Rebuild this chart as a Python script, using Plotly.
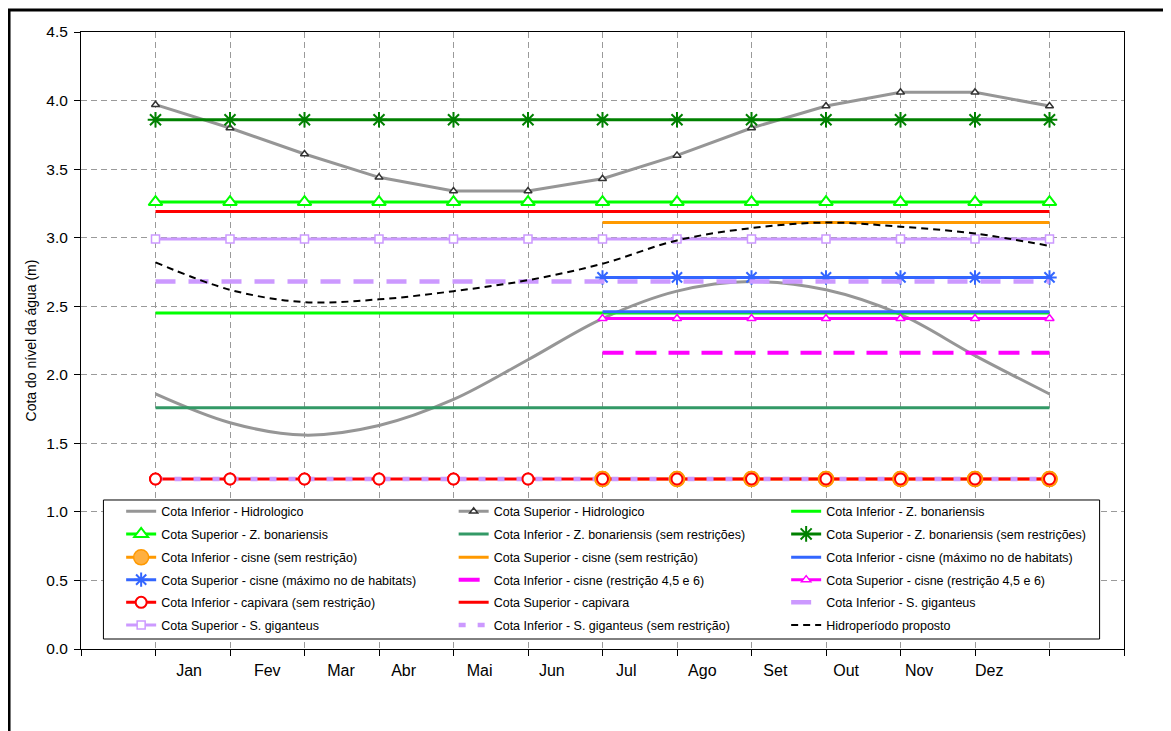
import plotly.graph_objects as go

# pontos do eixo x (13 leituras ao longo do ano)
pontos = [1, 2, 3, 4, 5, 6, 7, 8, 9, 10, 11, 12, 13]
pontos_jul_dez = [7, 8, 9, 10, 11, 12, 13]

meses = ["Jan", "Fev", "Mar", "Abr", "Mai", "Jun", "Jul", "Ago", "Set", "Out", "Nov", "Dez"]
meses_pos = [1.45, 2.50, 3.49, 4.33, 5.35, 6.32, 7.32, 8.34, 9.32, 10.27, 11.25, 12.19]

cota_inf_hidro = [1.86, 1.65, 1.56, 1.63, 1.82, 2.11, 2.41, 2.61, 2.68, 2.62, 2.44, 2.14, 1.86]
cota_sup_hidro = [3.97, 3.80, 3.61, 3.44, 3.34, 3.34, 3.43, 3.60, 3.80, 3.96, 4.06, 4.06, 3.96]
hidroperiodo = [2.82, 2.62, 2.53, 2.55, 2.61, 2.69, 2.81, 2.98, 3.07, 3.11, 3.08, 3.03, 2.94]

# cotas constantes (m)
inf_zbon = 2.45
sup_zbon = 3.26
inf_zbon_sem = 1.76
sup_zbon_sem = 3.86
inf_cisne_sem = 1.24
sup_cisne_sem = 3.11
inf_cisne_max = 2.46
sup_cisne_max = 2.71
inf_cisne_restr = 2.16
sup_cisne_restr = 2.41
inf_capivara = 1.24
sup_capivara = 3.19
inf_sgig = 2.68
sup_sgig = 2.99
inf_sgig_sem = 1.24

FONT = "Liberation Sans, Arial, sans-serif"
CINZA = "#969696"
VERDE = "#00FF00"
VERDE_MAR = "#339966"
VERDE_ESC = "#008000"
LARANJA = "#FF9900"
AZUL = "#3366FF"
MAGENTA = "#FF00FF"
VERMELHO = "#FF0000"
LILAS = "#CC99FF"


def mk(symbol, size, fill, edge, lw=1.5):
    return dict(symbol=symbol, size=size, color=fill, line=dict(color=edge, width=lw))


series = [
    dict(name="Cota Inferior - Hidrologico", x=pontos, y=cota_inf_hidro,
         line=dict(color=CINZA, width=3, shape="spline")),
    dict(name="Cota Superior - Hidrologico", x=pontos, y=cota_sup_hidro,
         line=dict(color=CINZA, width=3), marker=mk("triangle-up", 7, "white", "#333333")),
    dict(name="Cota Inferior - Z. bonariensis", x=pontos, y=[inf_zbon] * 13,
         line=dict(color=VERDE, width=3)),
    dict(name="Cota Superior - Z. bonariensis", x=pontos, y=[sup_zbon] * 13,
         line=dict(color=VERDE, width=3), marker=mk("triangle-up", 12, "white", VERDE, 2)),
    dict(name="Cota Inferior - Z. bonariensis (sem restrições)", x=pontos, y=[inf_zbon_sem] * 13,
         line=dict(color=VERDE_MAR, width=3)),
    dict(name="Cota Superior - Z. bonariensis (sem restrições)", x=pontos, y=[sup_zbon_sem] * 13,
         line=dict(color=VERDE_ESC, width=3), marker=mk("asterisk-open", 13, VERDE_ESC, VERDE_ESC, 2)),
    dict(name="Cota Inferior - cisne (sem restrição)", x=pontos_jul_dez, y=[inf_cisne_sem] * 7,
         line=dict(color=LARANJA, width=3), marker=mk("circle", 15, "#FFB040", LARANJA)),
    dict(name="Cota Superior - cisne (sem restrição)", x=pontos_jul_dez, y=[sup_cisne_sem] * 7,
         line=dict(color=LARANJA, width=3)),
    dict(name="Cota Inferior - cisne (máximo no de habitats)", x=pontos_jul_dez, y=[inf_cisne_max] * 7,
         line=dict(color=AZUL, width=3)),
    dict(name="Cota Superior - cisne (máximo no de habitats)", x=pontos_jul_dez, y=[sup_cisne_max] * 7,
         line=dict(color=AZUL, width=3), marker=mk("asterisk-open", 12, AZUL, AZUL, 2)),
    dict(name="Cota Inferior - cisne (restrição 4,5 e 6)", x=pontos_jul_dez, y=[inf_cisne_restr] * 7,
         line=dict(color=MAGENTA, width=4, dash="21px,12px")),
    dict(name="Cota Superior - cisne (restrição 4,5 e 6)", x=pontos_jul_dez, y=[sup_cisne_restr] * 7,
         line=dict(color=MAGENTA, width=3), marker=mk("triangle-up", 8, "white", MAGENTA)),
    dict(name="Cota Inferior - capivara (sem restrição)", x=pontos, y=[inf_capivara] * 13,
         line=dict(color=VERMELHO, width=3), marker=mk("circle", 11, "white", VERMELHO, 2)),
    dict(name="Cota Superior - capivara", x=pontos, y=[sup_capivara] * 13,
         line=dict(color=VERMELHO, width=3)),
    dict(name="Cota Inferior - S. giganteus", x=pontos, y=[inf_sgig] * 13,
         line=dict(color=LILAS, width=4.5, dash="20px,13px")),
    dict(name="Cota Superior - S. giganteus", x=pontos, y=[sup_sgig] * 13,
         line=dict(color=LILAS, width=3), marker=mk("square", 8, "white", LILAS)),
    dict(name="Cota Inferior - S. giganteus (sem restrição)", x=pontos, y=[inf_sgig_sem] * 13,
         line=dict(color=LILAS, width=4.5, dash="7px,12px")),
    dict(name="Hidroperíodo proposto", x=pontos, y=hidroperiodo,
         line=dict(color="black", width=2, dash="7px,5px", shape="spline")),
]

fig = go.Figure()
for i, s in enumerate(series):
    leg = "legend" if i < 3 else "legend%d" % (i // 3 + 1)
    fig.add_trace(go.Scatter(
        x=s["x"], y=s["y"], name=s["name"], line=s["line"],
        mode="lines+markers" if "marker" in s else "lines",
        marker=s.get("marker"), legend=leg, hoverinfo="name+y",
    ))

# marcadores circulares por cima das linhas tracejadas
for idx in (6, 12):
    s = series[idx]
    fig.add_trace(go.Scatter(x=s["x"], y=s["y"], mode="markers", marker=s["marker"],
                             showlegend=False, hoverinfo="skip"))

# eixo auxiliar só para os rótulos dos meses
fig.add_trace(go.Scatter(x=[None], y=[None], xaxis="x2", showlegend=False, hoverinfo="skip"))

grid = dict(showgrid=True, gridcolor="#9a9a9a", gridwidth=1, griddash="6px,4px")

# a página tem 8px de margem: a figura começa em (8, 8) na janela
fig.update_layout(
    width=1163, height=723,
    margin=dict(l=73, r=46.6, t=24, b=82),
    paper_bgcolor="white", plot_bgcolor="white",
    font=dict(family=FONT, color="black"),
    xaxis=dict(range=[0, 14], dtick=1, tick0=0, showticklabels=False, ticks="outside",
               ticklen=6, tickcolor="black", showline=True, linecolor="black", linewidth=1,
               mirror=True, zeroline=False, **grid),
    xaxis2=dict(range=[0, 14], overlaying="x", anchor="y", side="bottom",
                tickmode="array", tickvals=meses_pos, ticktext=meses, ticks="",
                showgrid=False, showline=False, zeroline=False,
                tickfont=dict(size=16, family=FONT), ticklabelstandoff=10),
    yaxis=dict(range=[0, 4.5], dtick=0.5, tick0=0, tickformat=".1f", ticks="outside",
               ticklen=6, tickcolor="black", showline=True, linecolor="black", linewidth=1,
               mirror=True, zeroline=False, tickfont=dict(size=15.5, family=FONT),
               ticklabelstandoff=3,
               title=dict(text="Cota do nível da água (m)", font=dict(size=14, family=FONT),
                          standoff=6),
               **grid),
    shapes=[
        # moldura do gráfico (continua além da imagem)
        dict(type="rect", xref="paper", yref="paper", x0=-0.0690, y0=1.0356, x1=1.3, y1=-0.4,
             line=dict(color="black", width=3), fillcolor="rgba(0,0,0,0)", layer="below"),
        # caixa da legenda
        dict(type="rect", xref="paper", yref="paper", x0=0.0215, y0=0.0162, x1=0.9766, y1=0.2415,
             line=dict(color="black", width=1), fillcolor="white", layer="above"),
    ],
)

linhas_leg = [0.2225, 0.1859, 0.1480, 0.1118, 0.0750, 0.0384]
for r, yl in enumerate(linhas_leg):
    key = "legend" if r == 0 else "legend%d" % (r + 1)
    fig.update_layout({key: dict(
        orientation="h", x=0.0385, xanchor="left", y=yl, yanchor="middle",
        bgcolor="rgba(0,0,0,0)", borderwidth=0, entrywidth=287.5, entrywidthmode="pixels",
        font=dict(size=12.5, family=FONT), itemclick=False, itemdoubleclick=False,
    )})

fig.write_html("out.html")
